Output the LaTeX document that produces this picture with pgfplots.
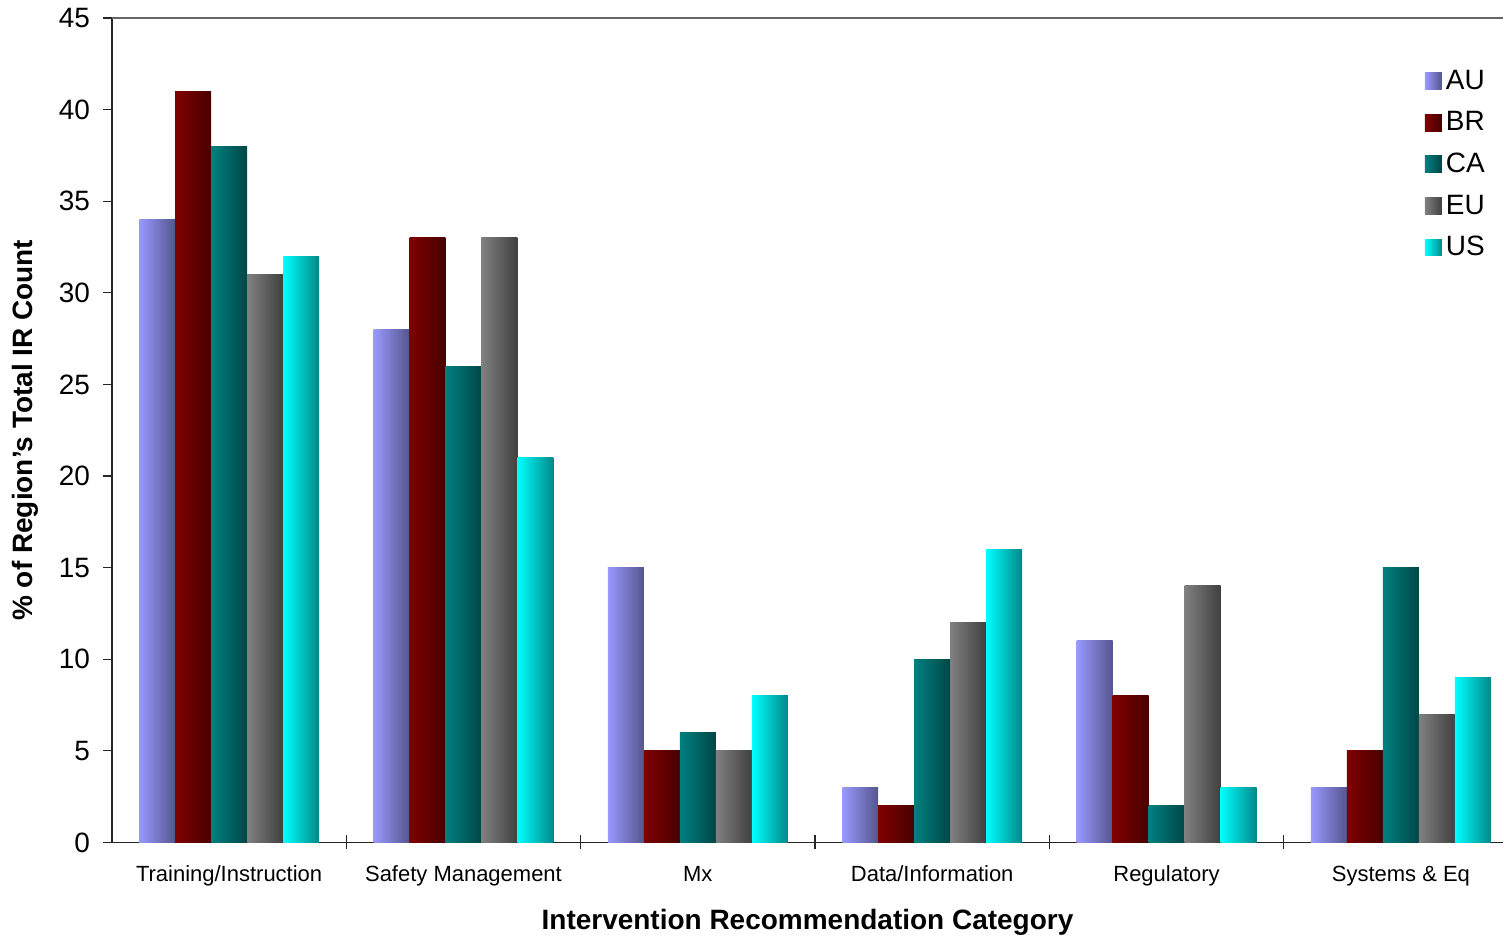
\documentclass[border=0pt]{standalone}
\usepackage{pgfplots}
\pgfplotsset{compat=1.18}
\usepackage{fontspec}
\setmainfont{Liberation Sans}

% shares of each region's IR count, by category
\pgfplotstableread{
x AU BR CA EU US
0 34 41 38 31 32
1 28 33 26 33 21
2 15 5 6 5 8
3 3 2 10 12 16
4 11 8 2 14 3
5 3 5 15 7 9
}\datatable

\definecolor{auL}{HTML}{9999FF}\definecolor{auR}{HTML}{55558E}
\definecolor{brL}{HTML}{800000}\definecolor{brR}{HTML}{480000}
\definecolor{caL}{HTML}{008080}\definecolor{caR}{HTML}{004646}
\definecolor{euL}{HTML}{808080}\definecolor{euR}{HTML}{404040}
\definecolor{usL}{HTML}{00FFFF}\definecolor{usR}{HTML}{008888}

\pgfplotsset{
  AUs/.style={draw=none, left color=auL, right color=auR},
  BRs/.style={draw=none, left color=brL, right color=brR},
  CAs/.style={draw=none, left color=caL, right color=caR},
  EUs/.style={draw=none, left color=euL, right color=euR},
  USs/.style={draw=none, left color=usL, right color=usR},
}

\begin{document}
\begin{tikzpicture}
\begin{axis}[
  scale only axis, width=696pt, height=412.5pt,
  bar width=18pt,
  xmin=-0.5, xmax=5.436, ymin=0, ymax=45,
  axis x line*=bottom, axis y line*=left,
  axis line style={line width=0.9pt, black!85},
  xtick={0,...,5},
  xticklabels={Training/Instruction, Safety Management, Mx, Data/Information, Regulatory, Systems \& Eq},
  major x tick style={draw=none},
  minor xtick={0.5,1.5,2.5,3.5,4.5},
  minor x tick style={black!85, line width=0.6pt},
  xtick align=center, minor tick length=7pt,
  ytick={0,5,...,45}, ytick align=outside, major tick length=4.5pt,
  y tick style={black!85, line width=0.6pt},
  tick label style={font=\fontsize{14}{16}\selectfont},
  yticklabel style={xshift=-3pt},
  xticklabel style={font=\fontsize{11}{13}\selectfont, yshift=-6pt},
  /pgf/number format/assume math mode=true,
  xlabel={\bfseries Intervention Recommendation Category},
  ylabel={\bfseries \% of Region's Total IR Count},
  label style={font=\fontsize{14}{16}\selectfont},
  xlabel style={at={(axis description cs:0.5,0)}, anchor=center, yshift=-40pt},
  ylabel style={at={(axis description cs:0,0.5)}, anchor=center, yshift=43.5pt},
  legend style={draw=none, fill=none, at={(rel axis cs:0.99,0.942)}, anchor=north east,
    font=\fontsize{14}{16}\selectfont, row sep=5.6pt, inner sep=0pt},
  legend cell align=left,
  legend image code/.code={\fill[#1] (-2pt,-4.25pt) rectangle (6.5pt,4.25pt);},
]
% one path per bar, so that every bar gets its own gradient
\pgfplotsinvokeforeach{0,...,5}{
  \addplot[ybar, bar shift=-36pt, AUs, forget plot] table[x=x, y=AU, restrict x to domain=#1:#1]{\datatable};
  \addplot[ybar, bar shift=-18pt, BRs, forget plot] table[x=x, y=BR, restrict x to domain=#1:#1]{\datatable};
  \addplot[ybar, bar shift=0pt,   CAs, forget plot] table[x=x, y=CA, restrict x to domain=#1:#1]{\datatable};
  \addplot[ybar, bar shift=18pt,  EUs, forget plot] table[x=x, y=EU, restrict x to domain=#1:#1]{\datatable};
  \addplot[ybar, bar shift=36pt,  USs, forget plot] table[x=x, y=US, restrict x to domain=#1:#1]{\datatable};
}
\addlegendimage{AUs}\addlegendimage{BRs}\addlegendimage{CAs}
\addlegendimage{EUs}\addlegendimage{USs}
\legend{AU,BR,CA,EU,US}
\draw[black!60, line width=0.9pt] (rel axis cs:0,1) -- (rel axis cs:1,1);
\coordinate (L) at (rel axis cs:0,0.5);
\coordinate (B) at (rel axis cs:0,0);
\coordinate (T) at (rel axis cs:0,1);
\end{axis}
% page margins as in the reference
\path (L) ++(-56pt,0);
\path (B) ++(0,-48.5pt);
\path (T) ++(0,9pt);
\end{tikzpicture}
\end{document}
